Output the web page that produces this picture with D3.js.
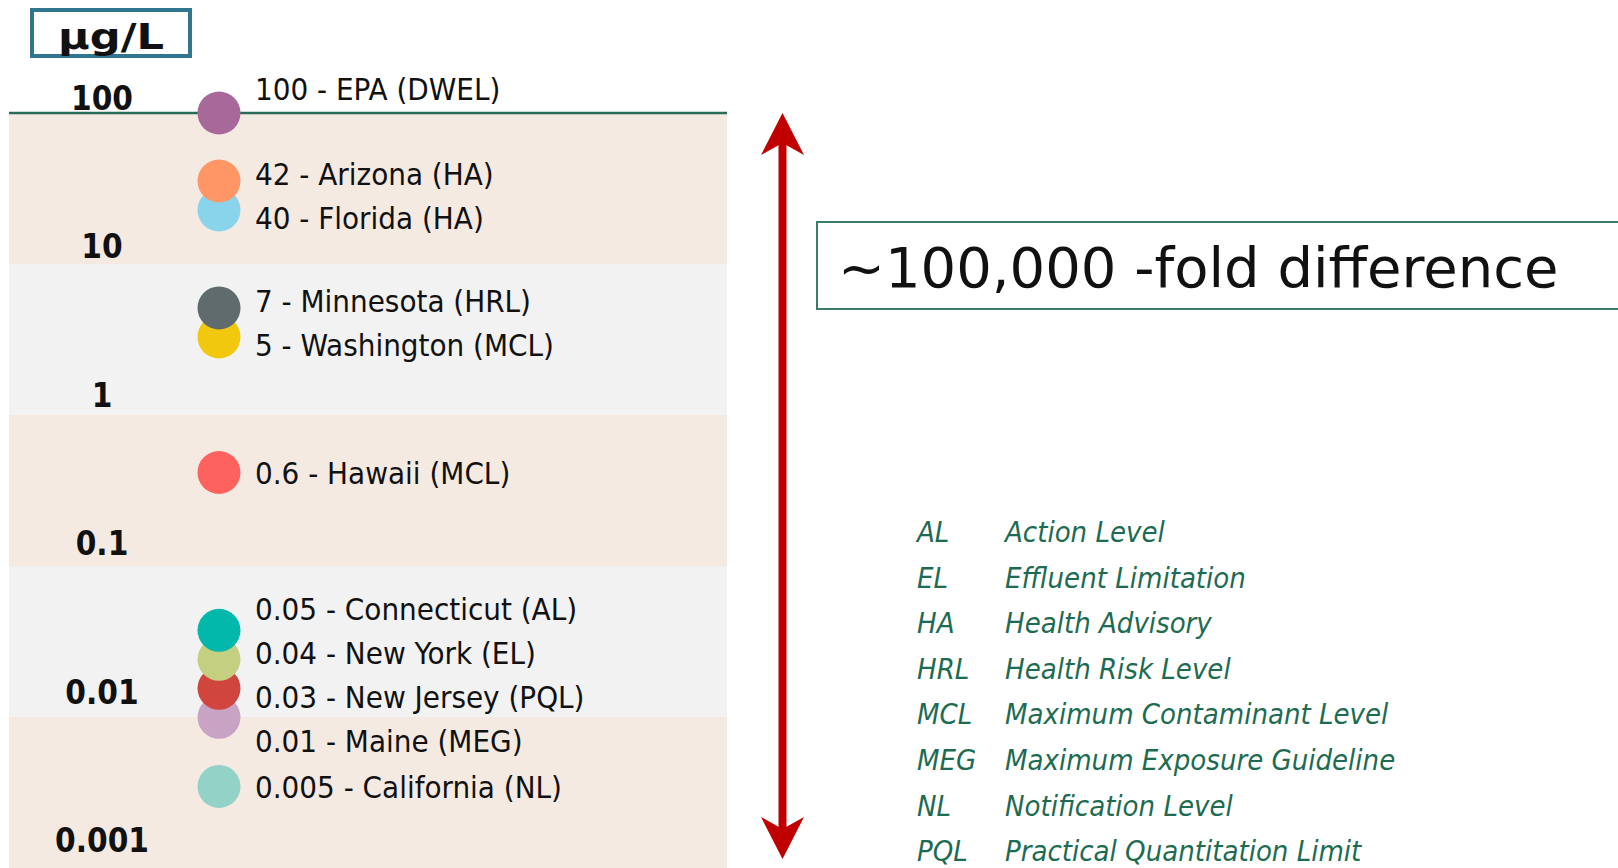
<!DOCTYPE html>
<html>
<head>
<meta charset="utf-8">
<script src="https://cdn.jsdelivr.net/npm/d3@7"></script>
<style>
  body { margin: 0; background: #fff; }
  svg { display: block; }
</style>
</head>
<body>
<svg id="chart"></svg>
<script>
// values in ug/L, one per source
var values = [100, 42, 40, 7, 5, 0.6, 0.05, 0.04, 0.03, 0.01, 0.005]
var sources = ["EPA (DWEL)", "Arizona (HA)", "Florida (HA)", "Minnesota (HRL)", "Washington (MCL)",
  "Hawaii (MCL)", "Connecticut (AL)", "New York (EL)", "New Jersey (PQL)", "Maine (MEG)", "California (NL)"]
var dotColors = ["#a66999", "#fe9666", "#8ad4eb", "#5f6b6d", "#f2c80f",
  "#fd625e", "#01b8aa", "#c4d07f", "#d0463f", "#c9a3c4", "#93d3c7"]

var tickValues = [100, 10, 1, 0.1, 0.01, 0.001]
var tickLabels = ["100", "10", "1", "0.1", "0.01", "0.001"]

var abbrevs = ["AL", "EL", "HA", "HRL", "MCL", "MEG", "NL", "PQL"]
var definitions = ["Action Level", "Effluent Limitation", "Health Advisory", "Health Risk Level",
  "Maximum Contaminant Level", "Maximum Exposure Guideline", "Notification Level", "Practical Quantitation Limit"]

var width = 1618, height = 868
var cond = "'DejaVu Sans Condensed', 'DejaVu Sans', sans-serif"
var green = "#1d6b51"

var svg = d3.select("#chart").attr("width", width).attr("height", height)

var y = d3.scaleLog()
  .domain([100, 0.001])
  .range([113, 868])

// tick labels sit a little above each band edge
var yLabel = d3.scaleLog()
  .domain([100, 0.001])
  .range([110, 852])

var bandX0 = 9, bandX1 = 727

// decade bands
var bands = d3.pairs(tickValues)
svg.append("g").selectAll("rect")
  .data(bands)
  .enter().append("rect")
  .attr("x", bandX0)
  .attr("width", bandX1 - bandX0)
  .attr("y", d => y(d[0]))
  .attr("height", d => y(d[1]) - y(d[0]))
  .attr("fill", (d, i) => i % 2 == 0 ? "#f5eae2" : "#f2f2f2")

// top line at 100
svg.append("line")
  .attr("x1", bandX0).attr("x2", bandX1)
  .attr("y1", y(100)).attr("y2", y(100))
  .attr("stroke", "#2a6b56")
  .attr("stroke-width", 2.5)

// tick labels
svg.append("g").selectAll("text")
  .data(tickValues)
  .enter().append("text")
  .attr("x", 102)
  .attr("y", d => yLabel(d))
  .attr("text-anchor", "middle")
  .style("font-family", cond)
  .style("font-weight", "bold")
  .style("font-size", "33px")
  .attr("fill", "#111")
  .text((d, i) => tickLabels[i])

// unit box
svg.append("rect")
  .attr("x", 32).attr("y", 10)
  .attr("width", 158).attr("height", 46)
  .attr("fill", "#fff")
  .attr("stroke", "#31768f")
  .attr("stroke-width", 4)
svg.append("text")
  .attr("x", 58).attr("y", 49)
  .attr("textLength", 106)
  .attr("lengthAdjust", "spacingAndGlyphs")
  .style("font-family", "'DejaVu Sans', sans-serif")
  .style("font-weight", "bold")
  .style("font-size", "35px")
  .attr("fill", "#111")
  .text("µg/L")

// items grouped by decade; each group is stacked around its mean position
var items = values.map((v, i) => ({ v: v, name: sources[i], color: dotColors[i] }))
var groups = d3.groups(items, d => Math.floor(Math.log10(d.v) + 1e-9))
var dotGap = 29, textGap = 44
groups.forEach(([k, g]) => {
  var n = g.length
  var m = d3.mean(g, d => y(d.v))
  g.forEach((d, i) => {
    if (d.v == y.domain()[0]) {
      // sits on the top line, label above it
      d.cy = y(d.v)
      d.ty = d.cy - 13
    } else {
      d.cy = m + 24 + (i - (n - 1) / 2) * dotGap
      d.ty = m + 36 + (i - (n - 1) / 2) * textGap
    }
  })
})

var cx = 219
// lower values drawn first so higher ones sit on top
svg.append("g").selectAll("circle")
  .data(items.slice().reverse())
  .enter().append("circle")
  .attr("cx", cx)
  .attr("cy", d => d.cy)
  .attr("r", 21.5)
  .attr("fill", d => d.color)

svg.append("g").selectAll("text")
  .data(items)
  .enter().append("text")
  .attr("x", 255)
  .attr("y", d => d.ty)
  .style("font-family", cond)
  .style("font-size", "31px")
  .attr("fill", "#111")
  .text(d => d.v + " - " + d.name)

// red double arrow spanning the range
var ax = 782.5
var arrowTop = y(100), arrowBottom = y(0.001) - 9
svg.append("line")
  .attr("x1", ax).attr("x2", ax)
  .attr("y1", arrowTop + 25).attr("y2", arrowBottom - 25)
  .attr("stroke", "#c00000")
  .attr("stroke-width", 8)
svg.append("path")
  .attr("d", `M${ax},${arrowTop} L${ax + 21.5},${arrowTop + 42} L${ax},${arrowTop + 30} L${ax - 21.5},${arrowTop + 42} Z`)
  .attr("fill", "#c00000")
svg.append("path")
  .attr("d", `M${ax},${arrowBottom} L${ax + 21.5},${arrowBottom - 42} L${ax},${arrowBottom - 30} L${ax - 21.5},${arrowBottom - 42} Z`)
  .attr("fill", "#c00000")

// fold difference box
svg.append("rect")
  .attr("x", 817).attr("y", 222)
  .attr("width", 900).attr("height", 87)
  .attr("fill", "#fff")
  .attr("stroke", "#3b7c66")
  .attr("stroke-width", 2)
svg.append("text")
  .attr("x", 838).attr("y", 287)
  .style("font-family", "'DejaVu Sans', sans-serif")
  .style("font-size", "56px")
  .attr("fill", "#111")
  .text("~100,000 -fold difference")

// abbreviation legend
var legend = svg.append("g")
  .style("font-family", cond)
  .style("font-style", "italic")
  .style("font-size", "29px")
  .attr("fill", green)

legend.selectAll("text.abbr")
  .data(abbrevs)
  .enter().append("text")
  .attr("class", "abbr")
  .attr("x", 917)
  .attr("y", (d, i) => 542 + i * 45.6)
  .text(d => d)

legend.selectAll("text.def")
  .data(definitions)
  .enter().append("text")
  .attr("class", "def")
  .attr("x", 1005)
  .attr("y", (d, i) => 542 + i * 45.6)
  .text(d => d)
</script>
</body>
</html>
